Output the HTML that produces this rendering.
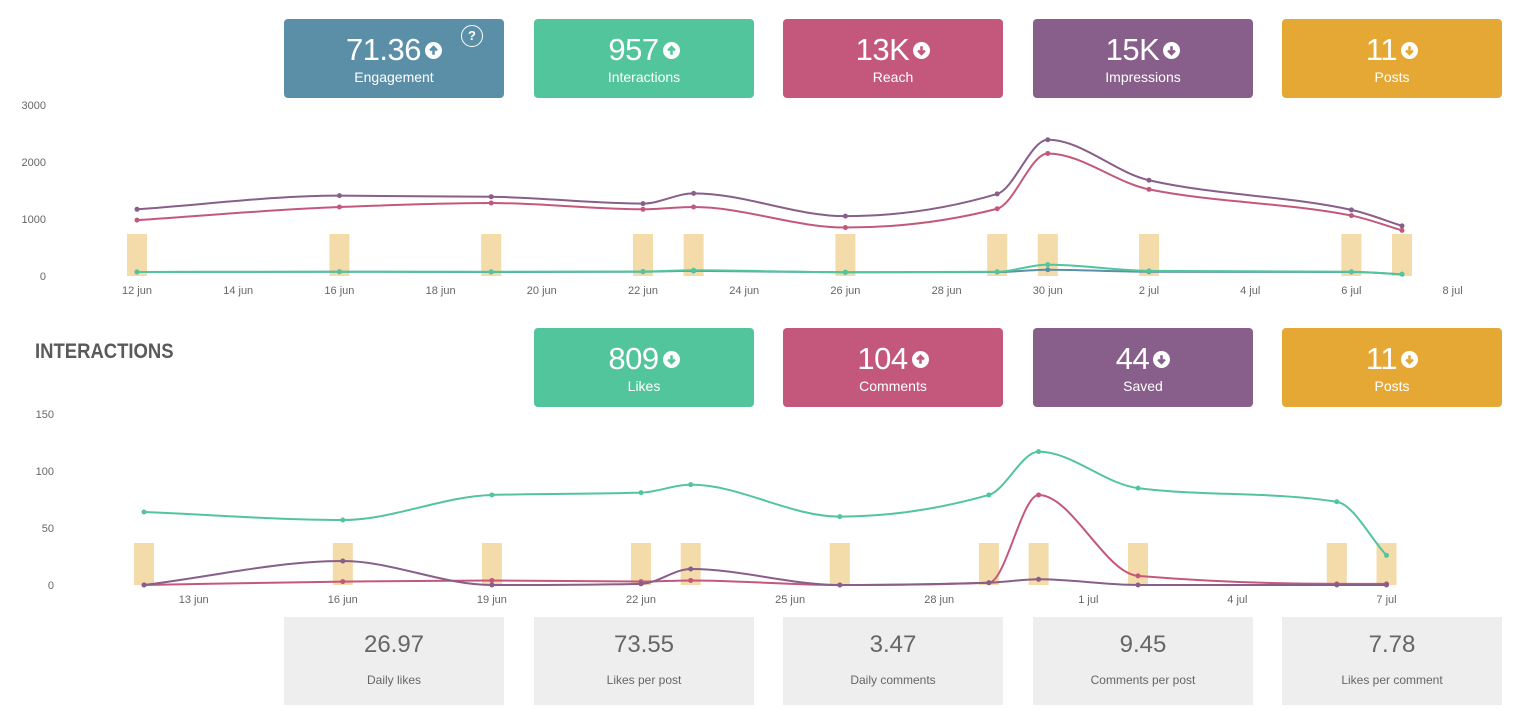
<!DOCTYPE html>
<html><head><meta charset="utf-8">
<style>
*{box-sizing:border-box;margin:0;padding:0}
body{width:1524px;height:719px;background:#fff;font-family:"Liberation Sans",sans-serif;position:relative;overflow:hidden}
.card{position:absolute;width:220px;border-radius:4px;color:#fff;text-align:center}
.top{height:79px}
.num{font-size:31px;line-height:32px;padding-top:15px;letter-spacing:-0.5px}
.lbl{font-size:14px;margin-top:3px}
.ic{display:inline-block;width:17px;height:17px;vertical-align:1px;margin-left:4px}
.stat{position:absolute;top:617px;width:220px;height:88px;background:#eee;text-align:center;color:#666}
.stat .v{font-size:24px;padding-top:14px}
.stat .l{font-size:12px;margin-top:14px}
svg text{font-family:"Liberation Sans",sans-serif;font-size:11px;fill:#666}
</style></head><body>
<svg id="chart1" width="1524" height="310" style="position:absolute;left:0;top:0"></svg>
<svg id="chart2" width="1524" height="330" style="position:absolute;left:0;top:300px"></svg>

<div class="card top" style="left:284px;top:19px;background:#5b8fa8"><div class="num">71.36<svg class="ic" viewBox="0 0 20 20"><circle cx="10" cy="10" r="10" fill="#fff"/><path d="M10 15V6M6 10l4-4 4 4" stroke="#5b8fa8" stroke-width="3" fill="none"/></svg></div><div class="lbl">Engagement</div>
<div style="position:absolute;left:177px;top:6px;width:22px;height:22px;border:1.5px solid #fff;border-radius:50%;font-size:13px;font-weight:bold;line-height:19px">?</div></div>
<div class="card top" style="left:534px;top:19px;background:#52c59d"><div class="num">957<svg class="ic" viewBox="0 0 20 20"><circle cx="10" cy="10" r="10" fill="#fff"/><path d="M10 15V6M6 10l4-4 4 4" stroke="#52c59d" stroke-width="3" fill="none"/></svg></div><div class="lbl">Interactions</div></div>
<div class="card top" style="left:783px;top:19px;background:#c4587c"><div class="num">13K<svg class="ic" viewBox="0 0 20 20"><circle cx="10" cy="10" r="10" fill="#fff"/><path d="M10 5v9M6 10l4 4 4-4" stroke="#c4587c" stroke-width="3" fill="none"/></svg></div><div class="lbl">Reach</div></div>
<div class="card top" style="left:1033px;top:19px;background:#885e8a"><div class="num">15K<svg class="ic" viewBox="0 0 20 20"><circle cx="10" cy="10" r="10" fill="#fff"/><path d="M10 5v9M6 10l4 4 4-4" stroke="#885e8a" stroke-width="3" fill="none"/></svg></div><div class="lbl">Impressions</div></div>
<div class="card top" style="left:1282px;top:19px;background:#e6a835"><div class="num">11<svg class="ic" viewBox="0 0 20 20"><circle cx="10" cy="10" r="10" fill="#fff"/><path d="M10 5v9M6 10l4 4 4-4" stroke="#e6a835" stroke-width="3" fill="none"/></svg></div><div class="lbl">Posts</div></div>

<div style="position:absolute;left:35px;top:340px;font-size:21px;font-weight:bold;color:#5a5a5a;transform:scaleX(0.88);transform-origin:left">INTERACTIONS</div>

<div class="card top" style="left:534px;top:328px;background:#52c59d"><div class="num">809<svg class="ic" viewBox="0 0 20 20"><circle cx="10" cy="10" r="10" fill="#fff"/><path d="M10 5v9M6 10l4 4 4-4" stroke="#52c59d" stroke-width="3" fill="none"/></svg></div><div class="lbl">Likes</div></div>
<div class="card top" style="left:783px;top:328px;background:#c4587c"><div class="num">104<svg class="ic" viewBox="0 0 20 20"><circle cx="10" cy="10" r="10" fill="#fff"/><path d="M10 15V6M6 10l4-4 4 4" stroke="#c4587c" stroke-width="3" fill="none"/></svg></div><div class="lbl">Comments</div></div>
<div class="card top" style="left:1033px;top:328px;background:#885e8a"><div class="num">44<svg class="ic" viewBox="0 0 20 20"><circle cx="10" cy="10" r="10" fill="#fff"/><path d="M10 5v9M6 10l4 4 4-4" stroke="#885e8a" stroke-width="3" fill="none"/></svg></div><div class="lbl">Saved</div></div>
<div class="card top" style="left:1282px;top:328px;background:#e6a835"><div class="num">11<svg class="ic" viewBox="0 0 20 20"><circle cx="10" cy="10" r="10" fill="#fff"/><path d="M10 5v9M6 10l4 4 4-4" stroke="#e6a835" stroke-width="3" fill="none"/></svg></div><div class="lbl">Posts</div></div>

<div class="stat" style="left:284px"><div class="v">26.97</div><div class="l">Daily likes</div></div>
<div class="stat" style="left:534px"><div class="v">73.55</div><div class="l">Likes per post</div></div>
<div class="stat" style="left:783px"><div class="v">3.47</div><div class="l">Daily comments</div></div>
<div class="stat" style="left:1033px"><div class="v">9.45</div><div class="l">Comments per post</div></div>
<div class="stat" style="left:1282px"><div class="v">7.78</div><div class="l">Likes per comment</div></div>

<script>
// day offsets from 12 jun
const postDays = [0,4,7,10,11,14,17,18,20,24,25];
const impressions = [1170,1410,1390,1270,1450,1050,1440,2390,1680,1160,880];
const reach = [980,1210,1280,1170,1210,850,1180,2150,1520,1060,800];
const interactions = [70,75,75,80,100,65,75,200,90,75,30];
const engagement = [70,75,70,75,90,65,70,110,75,70,30];
const ticks1 = [0,1000,2000,3000];
const xLabels1 = ["12 jun","14 jun","16 jun","18 jun","20 jun","22 jun","24 jun","26 jun","28 jun","30 jun","2 jul","4 jul","6 jul","8 jul"];
const xLabelDays1 = [0,2,4,6,8,10,12,14,16,18,20,22,24,26];

const likes = [64,57,79,81,88,60,79,117,85,73,26];
const comments = [0,3,4,3,4,0,2,79,8,1,1];
const saved = [0,21,0,1,14,0,2,5,0,0,0];
const ticks2 = [0,50,100,150];
const xLabels2 = ["13 jun","16 jun","19 jun","22 jun","25 jun","28 jun","1 jul","4 jul","7 jul"];
const xLabelDays2 = [1,4,7,10,13,16,19,22,25];

const NS="http://www.w3.org/2000/svg";
function mk(parent,tag,attrs){const e=document.createElementNS(NS,tag);for(const k in attrs)e.setAttribute(k,attrs[k]);parent.appendChild(e);return e;}
function monotone(pts){
  const n=pts.length,dx=[],m=[],t=[];
  for(let i=0;i<n-1;i++){dx.push(pts[i+1][0]-pts[i][0]);m.push((pts[i+1][1]-pts[i][1])/dx[i]);}
  t[0]=m[0];t[n-1]=m[n-2];
  for(let i=1;i<n-1;i++){ if(m[i-1]*m[i]<=0)t[i]=0; else {const w1=2*dx[i]+dx[i-1],w2=dx[i]+2*dx[i-1];t[i]=(w1+w2)/(w1/m[i-1]+w2/m[i]);} }
  let d="M"+pts[0][0]+","+pts[0][1];
  for(let i=0;i<n-1;i++){const h=dx[i]/3;d+=" C"+(pts[i][0]+h)+","+(pts[i][1]+t[i]*h)+" "+(pts[i+1][0]-h)+","+(pts[i+1][1]-t[i+1]*h)+" "+pts[i+1][0]+","+pts[i+1][1];}
  return d;
}
function draw(svg,cfg){
  const xs=d=>cfg.x0+d*cfg.dx, ys=v=>cfg.y0-v*cfg.ky;
  cfg.ticks.forEach(v=>{const t=mk(svg,"text",{x:cfg.tickX,y:ys(v)+4,"text-anchor":"end"});t.textContent=v;
    
    });
  cfg.xl.forEach((l,i)=>{const t=mk(svg,"text",{x:xs(cfg.xd[i]),y:cfg.y0+18,"text-anchor":"middle"});t.textContent=l;
    
    });
  postDays.forEach(d=>{const r=mk(svg,"rect",{x:xs(d)-10,y:cfg.y0-42,width:20,height:42,fill:"#f4dbaa"});
    
    });
  cfg.series.forEach(s=>{
    const pts=s.v.map((v,i)=>[xs(postDays[i]),ys(v)]);
    const p=mk(svg,"path",{d:monotone(pts),fill:"none",stroke:s.c,"stroke-width":2});
    
    
    pts.forEach(q=>{const c=mk(svg,"circle",{cx:q[0],cy:q[1],r:2.5,fill:s.c});
      
      });
  });
}
draw(document.getElementById('chart1'),{x0:137,dx:50.6,y0:276,ky:0.057,tickX:46,ticks:ticks1,xl:xLabels1,xd:xLabelDays1,
  series:[{name:'engagement',v:engagement,c:'#5b8fa8'},{name:'interactions',v:interactions,c:'#52c59d'},{name:'reach',v:reach,c:'#c4587c'},{name:'impressions',v:impressions,c:'#885e8a'}]});
draw(document.getElementById('chart2'),{x0:144,dx:49.7,y0:285,ky:1.14,tickX:54,ticks:ticks2,xl:xLabels2,xd:xLabelDays2,
  series:[{name:'likes',v:likes,c:'#52c59d'},{name:'comments',v:comments,c:'#c4587c'},{name:'saved',v:saved,c:'#885e8a'}]});
</script>
</body></html>
